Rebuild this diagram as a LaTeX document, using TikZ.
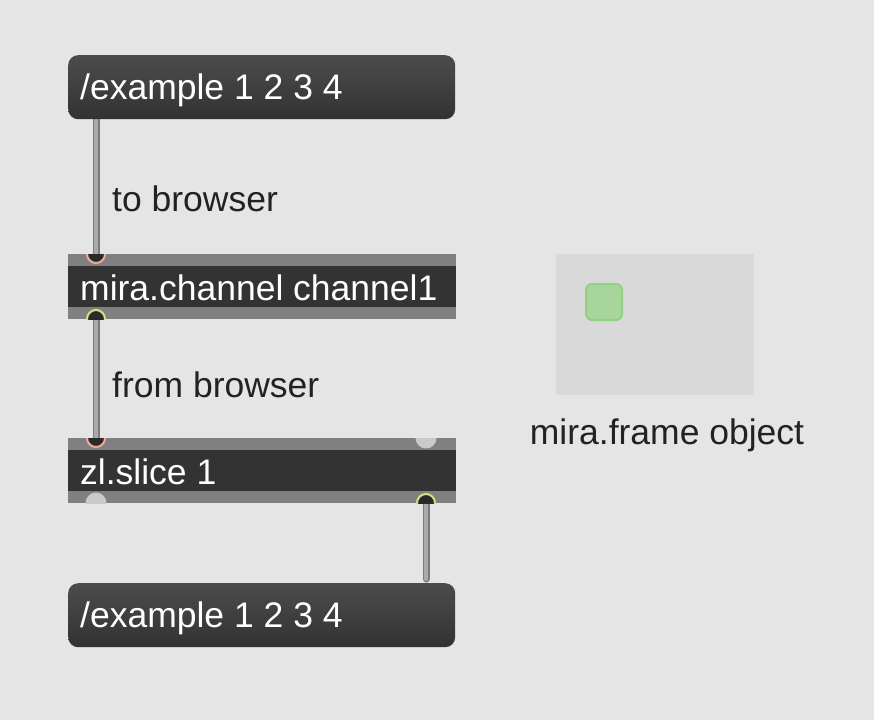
\documentclass[tikz,border=0pt]{standalone}
\usepackage{fontspec}
\setmainfont{Liberation Sans}
\definecolor{bg}{HTML}{E5E5E5}
\definecolor{msgtop}{HTML}{4C4C4C}
\definecolor{msgbot}{HTML}{323232}
\definecolor{band}{HTML}{808080}
\definecolor{objdark}{HTML}{333333}
\definecolor{portdark}{HTML}{2A2A2A}
\definecolor{inletpink}{HTML}{F2A999}
\definecolor{outletyellow}{HTML}{DADF7C}
\definecolor{portidle}{HTML}{C9C9CB}
\definecolor{cordedge}{HTML}{7C7C7C}
\definecolor{cordfill}{HTML}{ABABAB}
\definecolor{framefill}{HTML}{D9D9D9}
\definecolor{greenfill}{HTML}{A8D59C}
\definecolor{greenedge}{HTML}{90D182}
\definecolor{labelink}{HTML}{222222}
\begin{document}
\begin{tikzpicture}[x=1pt,y=-1pt,
  txt/.style={font=\fontsize{35.5}{40}\selectfont, inner sep=0pt, anchor=base west},
  boxtxt/.style={txt, text=white},
  lbl/.style={txt, text=labelink},
  msgbox/.style={rounded corners=10pt, top color=msgtop, bottom color=msgbot,
    minimum width=387pt, minimum height=64pt, inner sep=0pt, anchor=north west},
  objbox/.style={fill=band, minimum width=388pt, minimum height=65pt,
    inner sep=0pt, anchor=north west},
  inlet/.style={fill=portdark, draw=inletpink, line width=2pt},
  outlet/.style={fill=portdark, draw=outletyellow, line width=2pt},
  idle/.style={fill=portidle},
  cordout/.style={draw=cordedge, line width=7pt, line cap=round},
  cordin/.style={draw=cordfill, line width=3.6pt, line cap=round}]
\useasboundingbox[fill=bg] (0,0) rectangle (874,720);

% port positions
\coordinate (m1-out) at (96,117);
\coordinate (ch-in) at (96,254);
\coordinate (ch-out) at (96,319);
\coordinate (zl-in1) at (96,438);
\coordinate (zl-in2) at (426,438);
\coordinate (zl-out1) at (96,503);
\coordinate (zl-out2) at (426,503);
\coordinate (m2-in) at (426,579);

% patch cords (drawn first so the boxes cover their ends)
\foreach \a/\b in {m1-out/ch-in, ch-out/zl-in1, zl-out2/m2-in}{
  \draw[cordout] (\a) -- (\b);
  \draw[cordin] (\a) -- (\b);
}

% message boxes
\node[msgbox] (m1) at (68,55) {};
\node[boxtxt] (m1-t) at (80,99) {/example 1 2 3 4};
\node[msgbox] (m2) at (68,583) {};
\node[boxtxt] (m2-t) at (80,627) {/example 1 2 3 4};

% object boxes
\node[objbox] (ch) at (68,254) {};
\fill[objdark] ([yshift=-12pt]ch.north west) rectangle ([yshift=12pt]ch.south east);
\node[boxtxt] (ch-t) at (80,300) {mira.channel channel1};
\begin{scope}
  \clip (ch.north west) rectangle (ch.south east);
  \filldraw[inlet] (ch-in) circle[radius=9pt];
  \filldraw[outlet] (ch-out) circle[radius=9pt];
\end{scope}

\node[objbox] (zl) at (68,438) {};
\fill[objdark] ([yshift=-12pt]zl.north west) rectangle ([yshift=12pt]zl.south east);
\node[boxtxt] (zl-t) at (80,484) {zl.slice 1};
\begin{scope}
  \clip (zl.north west) rectangle (zl.south east);
  \filldraw[inlet] (zl-in1) circle[radius=9pt];
  \fill[idle] (zl-in2) circle[radius=10.5pt];
  \fill[idle] (zl-out1) circle[radius=10.5pt];
  \filldraw[outlet] (zl-out2) circle[radius=9pt];
\end{scope}

% cord labels
\node[lbl] (l1) at (112,211) {to browser};
\node[lbl] (l2) at (112,397) {from browser};

% mira.frame object
\node[fill=framefill, minimum width=198pt, minimum height=141pt, inner sep=0pt,
  anchor=north west] (fr) at (556,254) {};
\node[draw=greenedge, fill=greenfill, line width=2pt, rounded corners=6pt,
  minimum size=36pt, inner sep=0pt] (fr-dot) at (604,302) {};
\node[txt, text=labelink, anchor=base] (fr-t) at (667,444) {mira.frame object};
\end{tikzpicture}
\end{document}
